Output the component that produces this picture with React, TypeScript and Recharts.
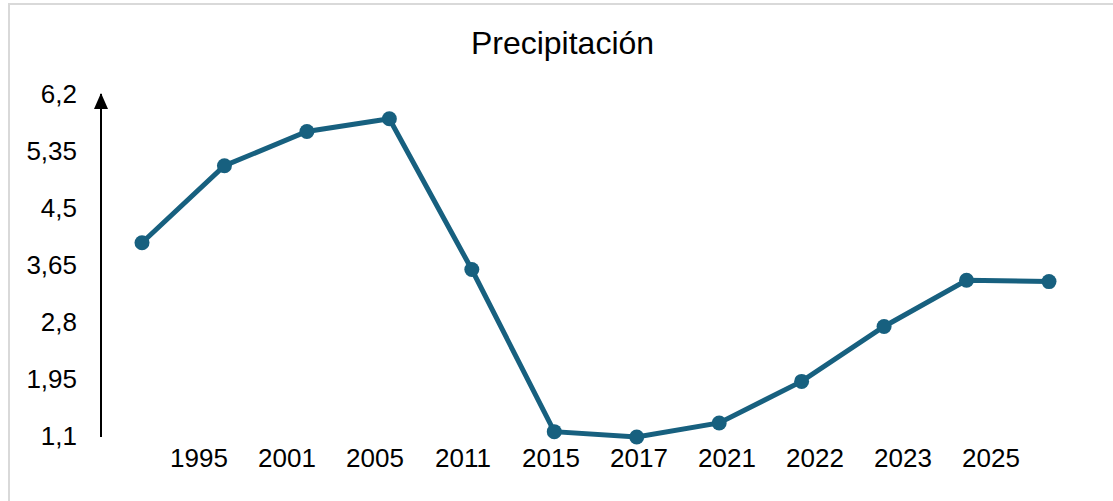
import { Line, LineChart, XAxis, YAxis } from "recharts";

const title = "Precipitación";
const values = [3.98, 5.13, 5.64, 5.83, 3.58, 1.16, 1.08, 1.29, 1.91, 2.73, 3.42, 3.4];
const yearLabels = ["1995", "2001", "2005", "2011", "2015", "2017", "2021", "2022", "2023", "2025"];
const yTicks = [1.1, 1.95, 2.8, 3.65, 4.5, 5.35, 6.2];

const data = values.map((v, i) => ({ idx: i, value: v }));
const labelTicks = yearLabels.map((_, i) => i);

const font = "'Liberation Sans', Arial, sans-serif";
const lineColor = "#17607f";

export default function App() {
  return (
    <div style={{ position: "fixed", left: 0, top: 0, width: 1113, height: 501, overflow: "hidden", background: "#fff" }}>
      <div
        style={{
          position: "absolute",
          left: 8,
          top: 3,
          width: 1130,
          height: 520,
          border: "2px solid #d9d9d9",
        }}
      />
      <div
        style={{
          position: "absolute",
          left: 0,
          width: 1125,
          top: 25,
          textAlign: "center",
          fontFamily: font,
          fontSize: 32,
          color: "#000",
        }}
      >
        {title}
      </div>
      <div style={{ position: "absolute", left: 0, top: 0 }}>
        <LineChart width={1113} height={501} data={data} margin={{ top: 94, right: 23, bottom: 24, left: 0 }}>
          <defs>
            <marker
              id="yArrow"
              markerUnits="userSpaceOnUse"
              markerWidth={16}
              markerHeight={18}
              refX={8}
              refY={1}
              orient="0"
            >
              <polygon points="1,16 8,0 15,16" fill="#000" />
            </marker>
          </defs>
          <XAxis dataKey="idx" type="category" hide height={0} padding={{ left: 41, right: 41 }} />
          <XAxis
            xAxisId="years"
            type="number"
            dataKey="idx"
            domain={[-1.114, 10.125]}
            allowDataOverflow
            ticks={labelTicks}
            tickFormatter={(i: number) => yearLabels[i] ?? ""}
            axisLine={false}
            tickLine={false}
            tickSize={0}
            tickMargin={12}
            height={40}
            interval={0}
            tick={{ fill: "#000", fontSize: 26, fontFamily: font }}
          />
          <YAxis
            width={101}
            domain={[1.1, 6.2]}
            ticks={yTicks}
            interval={0}
            tickFormatter={(v: number) => String(v).replace(".", ",")}
            axisLine={{ stroke: "#000", strokeWidth: 2, markerStart: "url(#yArrow)" }}
            tickLine={false}
            tickSize={0}
            tickMargin={24}
            tick={{ fill: "#000", fontSize: 26, fontFamily: font }}
          />
          <Line
            type="linear"
            dataKey="value"
            stroke={lineColor}
            strokeWidth={5}
            dot={{ r: 7.5, fill: lineColor, stroke: "none" }}
            activeDot={false}
            isAnimationActive={false}
          />
        </LineChart>
      </div>
    </div>
  );
}
